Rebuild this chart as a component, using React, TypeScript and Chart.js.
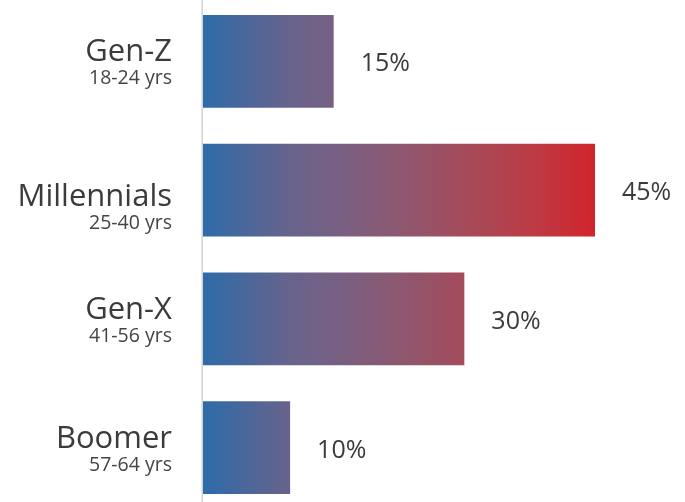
import React, { useEffect, useRef } from "react";
import { Chart, registerables } from "chart.js";

Chart.register(...registerables);

const categories = ["Gen-Z", "Millennials", "Gen-X", "Boomer"];
const ageRanges = ["18-24 yrs", "25-40 yrs", "41-56 yrs", "57-64 yrs"];
const shares = [15, 45, 30, 10];
const axisMax = 45;

// style constants
const FONT = "'Open Sans', 'Noto Sans', sans-serif";
const TEXT = "#3b3b3b";
const BLUE = "#2d6ba9";
const gradientStops: [number, string][] = [
  [0, "#2d6ba9"],
  [0.22, "#68638c"],
  [0.34, "#776083"],
  [0.5, "#8c5870"],
  [0.67, "#a54b5b"],
  [0.85, "#bd3a43"],
  [1, "#d2232b"],
];
const nameShift = [0, 16, 0, 0];

const labelPlugin = {
  id: "labels",
  afterDatasetsDraw(chart: any) {
    const { ctx, chartArea } = chart;
    const meta = chart.getDatasetMeta(0);
    ctx.save();
    ctx.strokeStyle = "#d2d2d2";
    ctx.lineWidth = 1.5;
    ctx.beginPath();
    ctx.moveTo(chartArea.left - 0.8, 0);
    ctx.lineTo(chartArea.left - 0.8, chart.height);
    ctx.stroke();

    meta.data.forEach((bar: any, i: number) => {
      const y = bar.y;
      ctx.fillStyle = TEXT;
      ctx.textAlign = "right";
      ctx.textBaseline = "alphabetic";
      ctx.font = `400 31px ${FONT}`;
      ctx.fillText(categories[i], 172, y + nameShift[i]);
      ctx.font = `400 19.5px ${FONT}`;
      ctx.fillStyle = "#444";
      ctx.fillText(ageRanges[i], 172, y + nameShift[i] + 23);
      ctx.fillStyle = TEXT;
      ctx.textAlign = "left";
      ctx.font = `400 25px ${FONT}`;
      ctx.fillText(shares[i] + "%", bar.x + 27, y + 10);
    });
    ctx.restore();
  },
};

export default function App() {
  const ref = useRef<HTMLCanvasElement>(null);
  useEffect(() => {
    if (!ref.current) return;
    const chart = new Chart(ref.current, {
      type: "bar",
      data: {
        labels: categories,
        datasets: [
          {
            data: shares,
            backgroundColor: (c: any) => {
              const { chart } = c;
              const area = chart.chartArea;
              if (!area) return BLUE;
              const g = chart.ctx.createLinearGradient(area.left, 0, area.right, 0);
              gradientStops.forEach(([p, col]) => g.addColorStop(p, col));
              return g;
            },
            borderWidth: 0,
          },
        ],
      },
      options: {
        indexAxis: "y",
        animation: false,
        responsive: true,
        maintainAspectRatio: false,
        layout: { padding: { left: 203, right: 90, top: 0, bottom: 0 } },
        plugins: { legend: { display: false }, tooltip: { enabled: false } },
        scales: {
          x: { display: false, min: 0, max: axisMax },
          y: { display: false },
        },
      },
      plugins: [labelPlugin],
    });
    return () => chart.destroy();
  }, []);
  return (
    <div style={{ position: "fixed", left: 0, top: -3, width: 685, height: 515, background: "#fff" }}>
      <canvas ref={ref} />
    </div>
  );
}
